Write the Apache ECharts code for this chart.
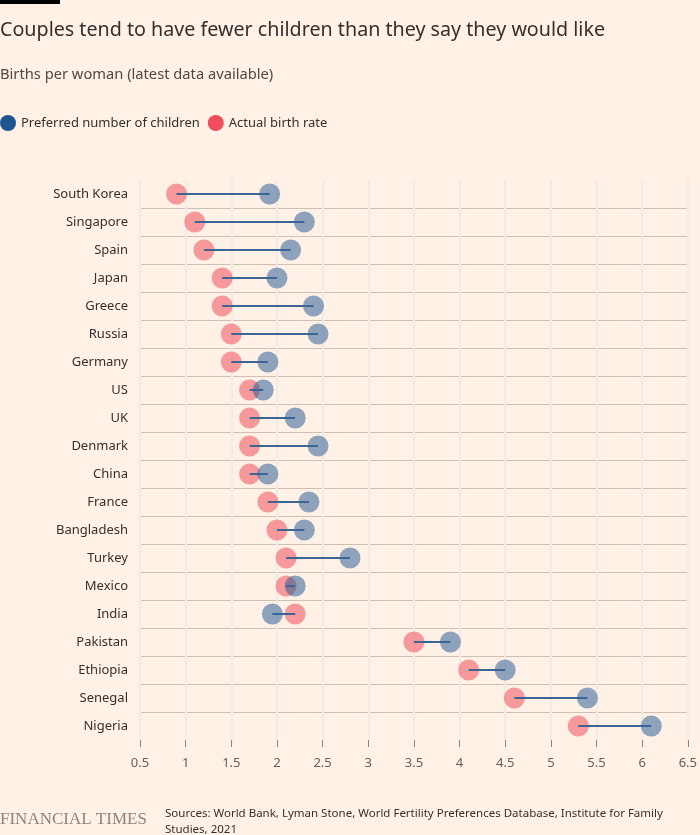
<!DOCTYPE html>
<html><head><meta charset="utf-8">
<script src="https://cdn.jsdelivr.net/npm/echarts@6/dist/echarts.min.js"></script>
<style>html,body{margin:0;padding:0;background:#fff1e5;}#c{width:700px;height:835px;}</style>
</head><body><div id="c"></div>
<script>
const countries = ["South Korea","Singapore","Spain","Japan","Greece","Russia","Germany","US","UK","Denmark","China","France","Bangladesh","Turkey","Mexico","India","Pakistan","Ethiopia","Senegal","Nigeria"];
const preferred = [1.92,2.3,2.15,2.0,2.4,2.45,1.9,1.85,2.2,2.45,1.9,2.35,2.3,2.8,2.2,1.95,3.9,4.5,5.4,6.1];
const actual = [0.9,1.1,1.2,1.4,1.4,1.5,1.5,1.7,1.7,1.7,1.7,1.9,2.0,2.1,2.1,2.2,3.5,4.1,4.6,5.3];
const xTicks = [0.5,1,1.5,2,2.5,3,3.5,4,4.5,5,5.5,6,6.5];

const font = "'Noto Sans', sans-serif";
const chart = echarts.init(document.getElementById('c'), null, {renderer:'canvas'});
const pairs = countries.map((c,i)=>[actual[i], preferred[i], c]);
chart.setOption({
  backgroundColor:'#fff1e5',
  animation:false,
  textStyle:{fontFamily:font},
  graphic:[
    {type:'rect', shape:{x:0,y:0,width:60,height:4}, style:{fill:'#000'}},
    {type:'text', left:0, top:20, style:{text:'Couples tend to have fewer children than they say they would like', font:"19.7px 'Noto Sans', sans-serif", fill:'#33302e'}},
    {type:'text', left:0, top:67, style:{text:'Births per woman (latest data available)', font:"14.7px 'Noto Sans', sans-serif", fill:'#4d4845'}},
    {type:'text', left:0, top:811, style:{text:'FINANCIAL TIMES', font:"17px 'Liberation Serif', serif", fill:'#8c8580'}},
    {type:'text', left:165, top:806, style:{text:'Sources: World Bank, Lyman Stone, World Fertility Preferences Database, Institute for Family\nStudies, 2021', font:"11.5px 'Noto Sans', sans-serif", fill:'#33302e', lineHeight:16}}
  ],
  legend:{
    left:0, top:115, padding:0, icon:'circle', itemWidth:16, itemHeight:18, itemGap:8,
    textStyle:{fontSize:13, color:'#33302e', fontFamily:font},
    data:[
      {name:'Preferred number of children', itemStyle:{color:'#1e5692', opacity:1}},
      {name:'Actual birth rate', itemStyle:{color:'#f04e5c', opacity:1}}
    ]
  },
  grid:{left:140, right:12, top:180, bottom:95},
  xAxis:{
    type:'value', min:0.5, max:6.5, interval:0.5,
    axisLine:{show:false},
    axisTick:{show:true, length:7, lineStyle:{color:'#8c8580'}},
    axisLabel:{fontSize:13, color:'#66605c', margin:17, fontFamily:font, formatter:v=>String(v)},
    splitLine:{show:true, lineStyle:{color:'#f0ebe6', width:2}}
  },
  yAxis:{
    type:'category', data:countries, inverse:true,
    axisLine:{show:false}, axisTick:{show:false},
    axisLabel:{fontSize:13, color:'#33302e', margin:12, fontFamily:font},
    splitLine:{show:true, showMinLine:false, showMaxLine:false, lineStyle:{color:'#ccc1b7', width:1}}
  },
  series:[
    {name:'Actual birth rate', type:'scatter', symbolSize:21, z:2,
     itemStyle:{color:'#f04e5c', opacity:0.55},
     data: countries.map((c,i)=>[actual[i], c])},
    {name:'Preferred number of children', type:'scatter', symbolSize:21, z:3,
     itemStyle:{color:'#1e5692', opacity:0.5},
     data: countries.map((c,i)=>[preferred[i], c])},
    {name:'link', type:'custom', z:4, silent:true,
     renderItem:(params, api)=>{
       const a = api.coord([api.value(0), api.value(2)]);
       const b = api.coord([api.value(1), api.value(2)]);
       return {type:'line', shape:{x1:a[0],y1:a[1],x2:b[0],y2:b[1]}, style:{stroke:'#3a6595', lineWidth:2}};
     },
     encode:{x:[0,1], y:2},
     data: pairs}
  ]
});
</script></body></html>
